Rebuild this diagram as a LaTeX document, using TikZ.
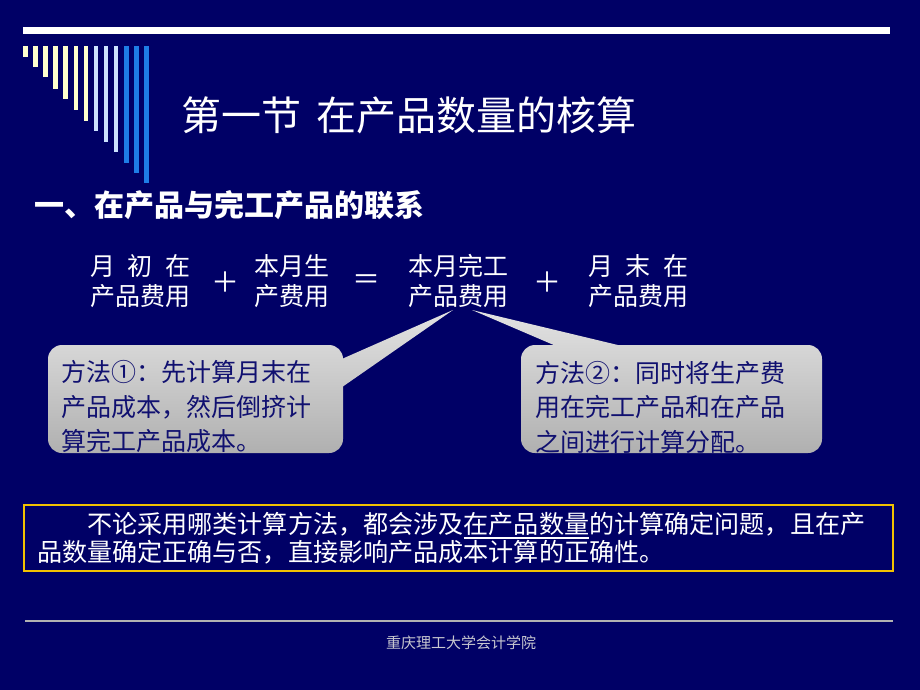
\documentclass[tikz,border=0pt]{standalone}
\usepackage{fontspec}
\setmainfont{Noto Sans CJK SC}
\definecolor{bg}{HTML}{000066}
\definecolor{barY}{HTML}{FFFFCC}
\definecolor{barL}{HTML}{CCE2FF}
\definecolor{barB}{HTML}{1E7DE6}
\definecolor{navytxt}{HTML}{101070}
\definecolor{gold}{HTML}{F2C200}
\definecolor{footgray}{HTML}{C8C8D0}
\tikzset{
  eqtxt/.style={font=\fontsize{25}{30}\selectfont, text=white, align=center, inner sep=0pt},
  optxt/.style={font=\fontsize{28}{30}\selectfont, text=white, inner sep=0pt},
  calltxt/.style={font=\fontsize{25}{34.5}\selectfont, text=navytxt, align=left, inner sep=0pt, anchor=west},
  callshade/.style={top color=gray!22, middle color=white, bottom color=gray!62},
  bodytxt/.style={font=\fontsize{25.1}{28}\selectfont, text=white, inner sep=0pt, outer sep=0pt, anchor=base west},
}
\begin{document}
\begin{tikzpicture}[x=1pt,y=-1pt]
\fill[bg] (0,0) rectangle (920,690);
\useasboundingbox (0,0) rectangle (920,690);
% top bar
\fill[white] (23,27) rectangle (890,34);
% vertical bars
\foreach \i/\b/\c in {0/57/barY,1/67/barY,2/77/barY,3/89/barY,4/99/barY,5/110/barY,6/121/barY,7/131/barL,8/142/barL,9/152/barL,10/163/barB,11/173/barB,12/183/barB}{
  \fill[\c] ({23+10.1*\i},46) rectangle ({27.5+10.1*\i},\b);
}
% title
\node[font=\fontsize{40}{42}\selectfont, text=white, inner sep=0pt] (title) at (409,115) {第一节\hspace{0.4em}在产品数量的核算};
\node[font=\fontsize{30}{32}\selectfont\bfseries, text=white, inner sep=0pt, anchor=west] (sub) at (34,205) {一、在产品与完工产品的联系};
% equation
\node[eqtxt] (e1) at (140,281) {\makebox[4em]{月\hfill 初\hfill 在}\\产品费用};
\node[optxt] (p1) at (225,282) {＋};
\node[eqtxt] (e2) at (292,281) {本月生\\产费用};
\node[optxt] (q) at (366,282) {＝};
\node[eqtxt] (e3) at (458,281) {本月完工\\产品费用};
\node[optxt] (p2) at (547,282) {＋};
\node[eqtxt] (e4) at (638,281) {\makebox[4em]{月\hfill 末\hfill 在}\\产品费用};
% callouts
\coordinate (tip1) at (453,310);
\coordinate (tip2) at (472,310);
\shade[callshade] [rounded corners=14pt] (48,345) -- (343,345) -- (343,453) -- (48,453) -- cycle
  [sharp corners] (335,362) -- (tip1) -- (335,392) -- cycle;
\shade[callshade] [rounded corners=14pt] (521,345) -- (822,345) -- (822,453) -- (521,453) -- cycle
  [sharp corners] (570,352) -- (tip2) -- (647,352) -- cycle;
\node[calltxt] (c1) at (61,407) {方法①：先计算月末在\\产品成本，然后倒挤计\\算完工产品成本。};
\node[calltxt] (c2) at (535,407) {方法②：同时将生产费\\用在完工产品和在产品\\之间进行计算分配。};
% bottom box
\draw[gold, line width=1.2pt] (24,505) rectangle (893,571);
\node[bodytxt] (b1a) at (37,533.5) {\hspace{2em}不论采用哪类计算方法，都会涉及};
\node[bodytxt] (b1u) at (b1a.base east) {在产品数量};
\node[bodytxt] (b1c) at (b1u.base east) {的计算确定问题，且在产};
\draw[white, line width=1.1pt] ([yshift=-4.5pt]b1u.base west) -- ([yshift=-4.5pt]b1u.base east);
\node[bodytxt] (b2) at (37,561.5) {品数量确定正确与否，直接影响产品成本计算的正确性。};
% footer
\draw[gray!60, line width=1.5pt] (25,621) -- (893,621);
\node[font=\fontsize{15}{17}\selectfont, text=footgray, inner sep=0pt] (foot) at (461,643) {重庆理工大学会计学院};
\end{tikzpicture}
\end{document}
